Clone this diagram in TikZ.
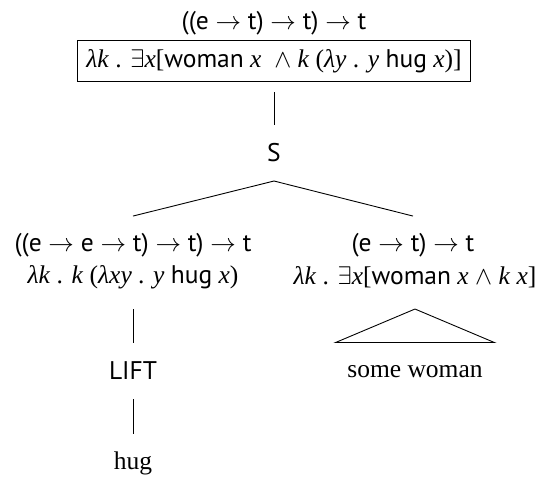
\documentclass[tikz,border=0pt]{standalone}
\usepackage{fontspec}
\setmainfont{Liberation Serif}
\setsansfont{PT Sans}
\newcommand\V[1]{\textit{#1}}
\newcommand\Ty[1]{\textsf{#1}}
\begin{document}
\begin{tikzpicture}[x=0.392pt,y=-0.392pt,
  font=\fontsize{10}{12}\selectfont,
  every node/.style={inner sep=0pt,outer sep=0pt},
  conn/.style={line width=0.35pt},
  boxed/.style={draw,line width=0.4pt,minimum width=153.7pt,minimum height=15.7pt},
  lvl/.style={minimum height=#1}]
\useasboundingbox (0,0) rectangle (536,478);
\node (toptype) at (274,23) {\Ty{((e $\rightarrow$ t) $\rightarrow$ t) $\rightarrow$ t}};
\node[boxed] (box) at (274,61) {\V{λk} . $\exists$\V{x}[\Ty{woman} \V{x}\ \ $\wedge$ \V{k} (\V{λy} . \V{y} \Ty{hug} \V{x})]};
\node[lvl=21.95pt] (S) at (274,153) {\Ty{S}};
\node[lvl=22.7pt] (Ltype) at (133,245) {\Ty{((e $\rightarrow$ e $\rightarrow$ t) $\rightarrow$ t) $\rightarrow$ t}};
\node[lvl=25.1pt] (Lform) at (133,277) {\V{λk} . \V{k} (\V{λxy} . \V{y} \Ty{hug} \V{x})};
\node[lvl=21.95pt] (LIFT) at (133,371) {\Ty{LIFT}};
\node[lvl=23.1pt] (hug) at (133,463) {hug};
\node[lvl=22.7pt] (Rtype) at (413,245) {\Ty{(e $\rightarrow$ t) $\rightarrow$ t}};
\node[lvl=25.1pt] (Rform) at (415,277) {\V{λk} . $\exists$\V{x}[\Ty{woman} \V{x} $\wedge$ \V{k} \V{x}]};
\node[lvl=23.1pt,minimum width=62.3pt] (SW) at (415,372) {some woman};
\draw[conn,shorten <=4.3pt] (box.south) -- (S.north);
\draw[conn] (S.south) -- (Ltype.north);
\draw[conn] (S.south) -- (Rtype.north);
\draw[conn] (Lform.south) -- (LIFT.north);
\draw[conn] (LIFT.south) -- (hug.north);
\draw[conn] (Rform.south) -- (SW.north west) -- (SW.north east) -- cycle;
\end{tikzpicture}
\end{document}
